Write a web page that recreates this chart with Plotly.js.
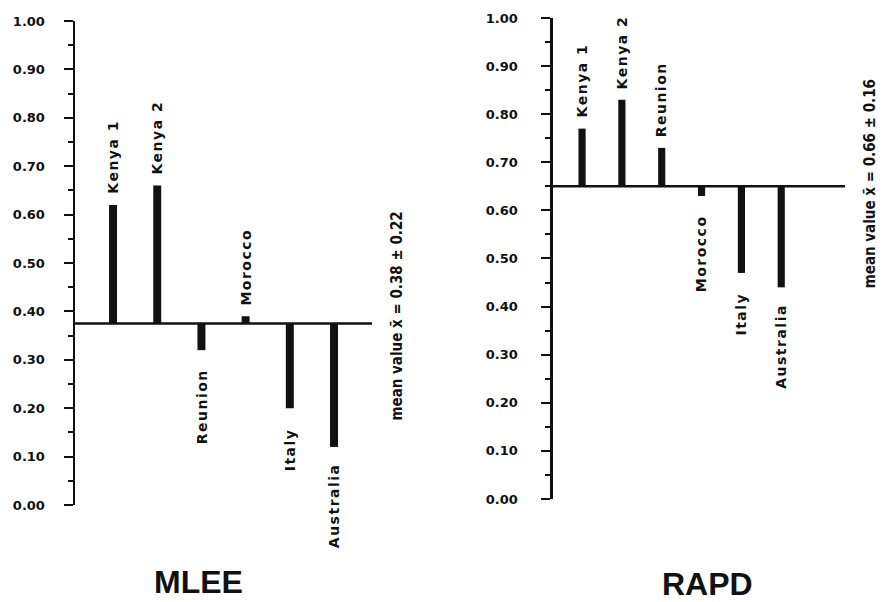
<!DOCTYPE html>
<html>
<head>
<meta charset="utf-8">
<script src="https://cdn.plot.ly/plotly-3.0.1.min.js"></script>
<style>
body { margin: 0; background: #fff; }
</style>
</head>
<body>
<div id="chart" style="width:890px;height:602px;"></div>
<script>
// ---- data ----
const categories = ['Kenya 1', 'Kenya 2', 'Reunion', 'Morocco', 'Italy', 'Australia'];
const mleeValues = [0.62, 0.66, 0.32, 0.39, 0.20, 0.12];
const rapdValues = [0.77, 0.83, 0.73, 0.63, 0.47, 0.44];
const mleeMean = 0.375;
const rapdMean = 0.65;
const mleeMeanLabel = 'mean value x\u0304 = 0.38 \u00b1 0.22';
const rapdMeanLabel = 'mean value x\u0304 = 0.66 \u00b1 0.16';
const panelTitles = ['MLEE', 'RAPD'];
const tickVals = [0, 0.1, 0.2, 0.3, 0.4, 0.5, 0.6, 0.7, 0.8, 0.9, 1.0];
const tickText = ['0.00', '0.10', '0.20', '0.30', '0.40', '0.50', '0.60', '0.70', '0.80', '0.90', '1.00'];

// ---- styles ----
const INK = '#111111';
const tickFont = { family: 'DejaVu Sans', size: 13, color: INK, weight: 'bold' };
const labelFont = { family: 'DejaVu Sans', size: 14, color: INK, weight: 'bold' };
const meanFont = { family: '"DejaVu Sans Condensed", "Liberation Sans", sans-serif', size: 15, color: INK, weight: 'bold' };
const titleFont = { family: 'Liberation Sans', size: 32, color: INK, weight: 'bold' };

// letter spacing for the rotated category labels
(function () {
  let css = '';
  for (let i = 0; i < 12; i++) css += '.annotation[data-index="' + i + '"] text{letter-spacing:1.5px}';
  const st = document.createElement('style');
  st.textContent = css;
  document.head.appendChild(st);
})();

function barTrace(values, mean, xa, ya) {
  return {
    type: 'bar',
    x: categories,
    y: values.map(v => v - mean),
    base: mean,
    width: 0.18,
    marker: { color: INK, line: { width: 0 } },
    xaxis: xa, yaxis: ya,
    hoverinfo: 'skip',
    showlegend: false
  };
}

const data = [
  barTrace(mleeValues, mleeMean, 'x', 'y'),
  barTrace(rapdValues, rapdMean, 'x2', 'y2')
];

const annotations = [];
function addLabels(values, mean, xr, yr) {
  values.forEach((v, i) => {
    const up = v >= mean;
    annotations.push({
      x: categories[i], y: v, xref: xr, yref: yr,
      text: categories[i], textangle: -90, showarrow: false,
      xanchor: 'center', yanchor: up ? 'bottom' : 'top',
      yshift: up ? 14 : -22,
      font: labelFont
    });
  });
}
addLabels(mleeValues, mleeMean, 'x', 'y');
addLabels(rapdValues, rapdMean, 'x2', 'y2');

annotations.push({
  x: 0.445, xref: 'paper', y: mleeMean, yref: 'y', yshift: 7,
  text: mleeMeanLabel, textangle: -90, showarrow: false,
  xanchor: 'center', yanchor: 'middle', font: meanFont
});
annotations.push({
  x: 0.9775, xref: 'paper', y: rapdMean, yref: 'y2', yshift: 3,
  text: rapdMeanLabel, textangle: -90, showarrow: false,
  xanchor: 'center', yanchor: 'middle', font: meanFont
});
annotations.push({
  x: 0.2225, y: 0.034, xref: 'paper', yref: 'paper', text: panelTitles[0],
  showarrow: false, xanchor: 'center', yanchor: 'middle', font: titleFont
});
annotations.push({
  x: 0.7955, y: 0.030, xref: 'paper', yref: 'paper', text: panelTitles[1],
  showarrow: false, xanchor: 'center', yanchor: 'middle', font: titleFont
});

function yAxis(domain, standoff, anchor) {
  return {
    domain: domain, range: [0, 1], anchor: anchor,
    tickvals: tickVals, ticktext: tickText,
    ticks: 'outside', ticklen: 9, tickwidth: 2, tickcolor: INK,
    minor: { dtick: 0.05, tick0: 0, ticks: 'outside', ticklen: 5, tickwidth: 2, tickcolor: INK },
    showline: true, linewidth: 2.5, linecolor: INK,
    showgrid: false, zeroline: false,
    tickfont: tickFont, ticklabelstandoff: standoff,
    automargin: false, fixedrange: true
  };
}
function xAxis(domain, range, anchor) {
  return {
    domain: domain, range: range, anchor: anchor, type: 'category',
    categoryorder: 'array', categoryarray: categories,
    visible: false, showgrid: false, zeroline: false, fixedrange: true
  };
}

const layout = {
  width: 890, height: 602,
  margin: { l: 0, r: 0, t: 0, b: 0 },
  paper_bgcolor: '#ffffff', plot_bgcolor: 'rgba(0,0,0,0)',
  showlegend: false,
  xaxis: xAxis([0.0843, 0.418], [-0.86, 5.86], 'y'),
  yaxis: yAxis([0.1611, 0.9651], 16, 'x'),
  xaxis2: xAxis([0.6213, 0.9494], [-0.73, 6.6], 'y2'),
  yaxis2: yAxis([0.1711, 0.9701], 21, 'x2'),
  shapes: [
    { type: 'line', xref: 'x domain', yref: 'y', x0: 0, x1: 1, y0: mleeMean, y1: mleeMean,
      line: { color: INK, width: 2.5 } },
    { type: 'line', xref: 'x2 domain', yref: 'y2', x0: 0, x1: 1, y0: rapdMean, y1: rapdMean,
      line: { color: INK, width: 2.5 } }
  ],
  annotations: annotations
};

Plotly.newPlot('chart', data, layout, { displayModeBar: false, staticPlot: true });
</script>
</body>
</html>
